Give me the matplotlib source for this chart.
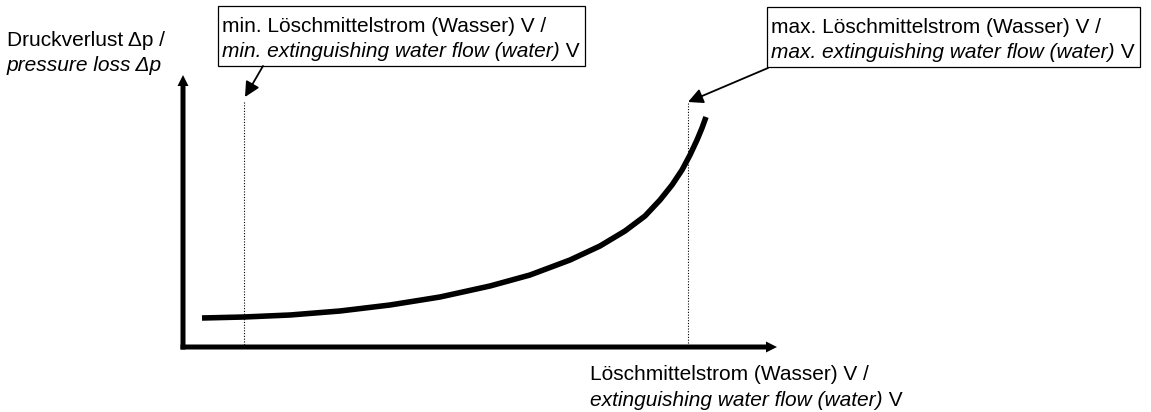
import matplotlib
matplotlib.use("Agg")
import matplotlib.pyplot as plt
from matplotlib.patches import Rectangle

plt.rcParams['font.family'] = ['Liberation Sans', 'DejaVu Sans']

# schematic drawn in pixel units (x to the right, y downwards)
W, H = 1151, 412

# pressure loss curve
curve_x = [202, 244, 290, 340, 390, 440, 490, 530, 570, 600, 625, 645, 660,
           672, 682, 690, 697, 702, 706]
curve_y = [318, 317, 315, 311, 305, 297, 286, 275, 260, 246, 231, 216, 200,
           185, 170, 155, 140, 128, 117]

# axes: origin and arrow tips
origin = (183, 347)
y_tip = 75
x_tip = 777

# min / max flow markers
marker_x = [244, 688]
marker_top = [102, 103]

# text
y_label = ["Druckverlust \u0394p /", "pressure loss \u0394p"]
x_label = ["Löschmittelstrom (Wasser) V /", "extinguishing water flow (water)"]
box_texts = [
    ["min. Löschmittelstrom (Wasser) V /", "min. extinguishing water flow (water)"],
    ["max. Löschmittelstrom (Wasser) V /", "max. extinguishing water flow (water)"],
]
box_pos = [(222, 32), (771, 33)]
arrow_from = [(263, 66), (768, 68)]
arrow_to = [(245, 97), (688, 102)]

fig = plt.figure(figsize=(W / 100, H / 100), dpi=100)
ax = fig.add_axes([0, 0, 1, 1])
ax.set_xlim(0, W)
ax.set_ylim(H, 0)
ax.axis('off')

FS = 15
LINE = 25


def two_lines(x, y, lines, gap=LINE):
    a = ax.text(x, y, lines[0], fontsize=FS, va='baseline', ha='left')
    b = ax.text(x, y + gap, lines[1], fontsize=FS, va='baseline', ha='left',
                style='italic')
    return a, b


def upright_v(t, y):
    return ax.annotate(' V', xy=(1, y), xycoords=(t, 'data'), fontsize=FS,
                       va='baseline', ha='left')


# axes with arrows
ox, oy = origin
ax.arrow(ox, oy + 2.5, 0, y_tip - oy - 2.5, width=5, head_width=11, head_length=11,
         length_includes_head=True, color='k', lw=0)
ax.arrow(ox - 2.5, oy, x_tip - ox + 2.5, 0, width=5, head_width=11, head_length=11,
         length_includes_head=True, color='k', lw=0)

# dotted marker lines
for mx, mt in zip(marker_x, marker_top):
    ax.plot([mx, mx], [mt, oy], color='k', lw=0.8, ls=(0, (1, 1.5)))

# curve
ax.plot(curve_x, curve_y, color='k', lw=4.0, solid_capstyle='butt',
        solid_joinstyle='round')

# axis labels
two_lines(7, 46, y_label)
a, b = two_lines(590, 380, x_label, gap=26)
upright_v(b, 406)

# boxes around the annotation texts
fig.canvas.draw()
renderer = fig.canvas.get_renderer()
inv = ax.transData.inverted()
for (x, y), lines in zip(box_pos, box_texts):
    a, b = two_lines(x, y, lines)
    v = upright_v(b, y + LINE)
    fig.canvas.draw()
    right = max(a.get_window_extent(renderer).x1, v.get_window_extent(renderer).x1)
    x1 = min(inv.transform((right, 0))[0] + 6, W - 4)
    ax.add_patch(Rectangle((x - 4, y - 26), x1 - x + 4, 60, fill=False, ec='k', lw=0.9))

for p, q in zip(arrow_from, arrow_to):
    ax.annotate('', xy=q, xytext=p,
                arrowprops=dict(arrowstyle='-|>,head_length=0.9,head_width=0.45',
                                color='k', lw=1.3, shrinkA=0, shrinkB=0))

fig.savefig('out.png', dpi=100)
